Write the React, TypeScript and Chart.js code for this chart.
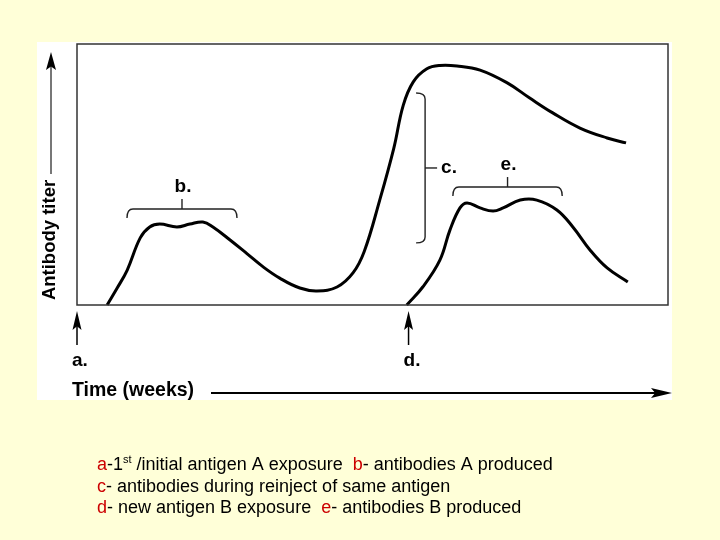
import React, { useEffect, useRef } from "react";
import { Chart, registerables } from "chart.js";

Chart.register(...registerables);

// Primary response to antigen A and secondary response on re-exposure (relative units)
const weeksA = [5.1, 6.8, 8.5, 10.7, 12.3, 14.0, 16.9, 19.1, 21.3, 23.0, 25.9, 28.8, 31.5, 34.3, 37.7, 40.6, 44.0, 46.7, 48.6, 51.2, 53.6, 55.2, 56.9, 59.2, 61.4, 64.3, 68.2, 72.8, 76.6, 80.5, 85.1, 89.7, 92.9];
const titerA = [0, 6.5, 13.4, 25.7, 29.9, 31.0, 29.9, 31.0, 31.8, 29.9, 24.9, 19.6, 14.6, 10.3, 6.5, 5.4, 6.9, 12.3, 20.5, 40.0, 60.0, 76.5, 85.5, 90.5, 91.8, 91.6, 90.0, 85.1, 79.3, 73.6, 67.8, 64.0, 62.1];

// Primary response to new antigen B
const weeksB = [55.8, 58.5, 61.4, 63.1, 64.8, 66.0, 68.2, 70.4, 72.1, 75.0, 77.8, 81.2, 83.9, 86.8, 89.7, 93.2];
const titerB = [0, 6.9, 17.2, 28.7, 37.2, 39.1, 37.2, 36.0, 37.2, 40.2, 40.2, 36.4, 29.9, 21.1, 14.2, 8.8];

// Exposure markers (x position)
const exposureLabels = ["a.", "d."];
const exposureWeeks = [0, 56.1];

// Brackets: [xStart, xEnd, yTop]
const bracketBx = [8.46, 27.07];
const bracketBy = 36.8;
const bracketEx = [63.6, 82.1];
const bracketEy = 45.2;
const bracketCx = 58.9;
const bracketCy = [23.8, 81.2];

const yAxisTitle = "Antibody titer";
const xAxisTitle = "Time (weeks)";

const RED = "#CC0000";
const legendLines: Array<Array<[string, string, boolean?]>> = [
  [["a", RED], ["-1", "#000"], ["st", "#000", true], [" /initial antigen A exposure  ", "#000"], ["b", RED], ["- antibodies A produced", "#000"]],
  [["c", RED], ["- antibodies during reinject of same antigen", "#000"]],
  [["d", RED], ["- new antigen B exposure  ", "#000"], ["e", RED], ["- antibodies B produced", "#000"]],
];

const FONT = '"Liberation Sans", Arial, sans-serif';
const BG = "#FFFFD8";

function arrowHead(ctx: CanvasRenderingContext2D, tipX: number, tipY: number, dir: "up" | "right", len: number, half: number) {
  ctx.beginPath();
  if (dir === "up") {
    ctx.moveTo(tipX, tipY);
    ctx.lineTo(tipX + half, tipY + len);
    ctx.lineTo(tipX, tipY + len * 0.8);
    ctx.lineTo(tipX - half, tipY + len);
  } else {
    ctx.moveTo(tipX, tipY);
    ctx.lineTo(tipX - len, tipY + half);
    ctx.lineTo(tipX - len * 0.8, tipY);
    ctx.lineTo(tipX - len, tipY - half);
  }
  ctx.closePath();
  ctx.fill();
}

const decorPlugin = {
  id: "decor",
  beforeDraw(chart: any) {
    const ctx: CanvasRenderingContext2D = chart.ctx;
    ctx.save();
    ctx.fillStyle = BG;
    ctx.fillRect(0, 0, chart.width, chart.height);
    ctx.fillStyle = "#FFFFFF";
    ctx.fillRect(37, 42, 635, 358);
    ctx.restore();
  },
  afterDraw(chart: any) {
    const ctx: CanvasRenderingContext2D = chart.ctx;
    const { left, right, top, bottom } = chart.chartArea;
    const xs = chart.scales.x;
    const ys = chart.scales.y;
    ctx.save();
    // plot box
    ctx.strokeStyle = "#333";
    ctx.lineWidth = 1.5;
    ctx.strokeRect(left, top, right - left, bottom - top);

    // y axis arrow
    ctx.strokeStyle = "#777";
    ctx.lineWidth = 2;
    ctx.beginPath();
    ctx.moveTo(51, 174);
    ctx.lineTo(51, 66);
    ctx.stroke();
    ctx.fillStyle = "#000";
    arrowHead(ctx, 51, 52, "up", 18, 5);

    // y title
    ctx.save();
    ctx.translate(50, 240);
    ctx.rotate(-Math.PI / 2);
    ctx.font = `bold 18.5px ${FONT}`;
    ctx.textAlign = "center";
    ctx.textBaseline = "middle";
    ctx.fillStyle = "#000";
    ctx.fillText(yAxisTitle, 0, 0);
    ctx.restore();

    // x title + arrow
    ctx.font = `bold 19.5px ${FONT}`;
    ctx.textAlign = "left";
    ctx.textBaseline = "middle";
    ctx.fillStyle = "#000";
    ctx.fillText(xAxisTitle, 72, 391);
    ctx.strokeStyle = "#000";
    ctx.lineWidth = 2;
    ctx.beginPath();
    ctx.moveTo(211, 393);
    ctx.lineTo(656, 393);
    ctx.stroke();
    arrowHead(ctx, 672, 393, "right", 21, 5);

    // exposure arrows
    exposureWeeks.forEach((w, i) => {
      const px = xs.getPixelForValue(w);
      ctx.strokeStyle = "#000";
      ctx.lineWidth = 1.5;
      ctx.beginPath();
      ctx.moveTo(px, 345);
      ctx.lineTo(px, 326);
      ctx.stroke();
      arrowHead(ctx, px, 311, "up", 19, 4.5);
      ctx.font = `bold 19px ${FONT}`;
      ctx.textAlign = "left";
      ctx.textBaseline = "middle";
      ctx.fillText(exposureLabels[i], px - 5, 361);
    });

    // horizontal brackets
    const hBracket = (x0: number, x1: number, yv: number, label: string) => {
      const p0 = xs.getPixelForValue(x0);
      const p1 = xs.getPixelForValue(x1);
      const py = ys.getPixelForValue(yv);
      const mid = (p0 + p1) / 2;
      ctx.strokeStyle = "#222";
      ctx.lineWidth = 1.4;
      ctx.beginPath();
      ctx.moveTo(p0, py + 9);
      ctx.quadraticCurveTo(p0, py, p0 + 6, py);
      ctx.lineTo(p1 - 6, py);
      ctx.quadraticCurveTo(p1, py, p1, py + 9);
      ctx.stroke();
      ctx.beginPath();
      ctx.moveTo(mid, py);
      ctx.lineTo(mid, py - 10);
      ctx.stroke();
      ctx.font = `bold 19px ${FONT}`;
      ctx.textAlign = "center";
      ctx.textBaseline = "middle";
      ctx.fillStyle = "#000";
      ctx.fillText(label, mid + 1, py - 22);
    };
    hBracket(bracketBx[0], bracketBx[1], bracketBy, "b.");
    hBracket(bracketEx[0], bracketEx[1], bracketEy, "e.");

    // vertical bracket c
    const cx = xs.getPixelForValue(bracketCx);
    const cy0 = ys.getPixelForValue(bracketCy[1]);
    const cy1 = ys.getPixelForValue(bracketCy[0]);
    ctx.strokeStyle = "#222";
    ctx.lineWidth = 1.4;
    ctx.beginPath();
    ctx.moveTo(cx - 9, cy0);
    ctx.quadraticCurveTo(cx, cy0, cx, cy0 + 6);
    ctx.lineTo(cx, cy1 - 6);
    ctx.quadraticCurveTo(cx, cy1, cx - 9, cy1);
    ctx.stroke();
    const cmid = (cy0 + cy1) / 2;
    ctx.beginPath();
    ctx.moveTo(cx, cmid);
    ctx.lineTo(cx + 12, cmid);
    ctx.stroke();
    ctx.font = `bold 19px ${FONT}`;
    ctx.textAlign = "left";
    ctx.textBaseline = "middle";
    ctx.fillStyle = "#000";
    ctx.fillText("c.", cx + 16, cmid);

    // legend text
    const centers = [465, 487, 508];
    legendLines.forEach((segs, li) => {
      let x = 97;
      const cy = centers[li];
      segs.forEach(([txt, col, sup]) => {
        ctx.fillStyle = col;
        ctx.textAlign = "left";
        ctx.textBaseline = "middle";
        if (sup) {
          ctx.font = `11px ${FONT}`;
          ctx.fillText(txt, x, cy - 5);
        } else {
          ctx.font = `18px ${FONT}`;
          ctx.fillText(txt, x, cy);
        }
        x += ctx.measureText(txt).width;
      });
    });
    ctx.restore();
  },
};

export default function App() {
  const ref = useRef<HTMLCanvasElement | null>(null);
  useEffect(() => {
    if (!ref.current) return;
    const chart = new Chart(ref.current, {
      type: "line",
      data: {
        datasets: [
          {
            data: weeksA.map((x, i) => ({ x, y: titerA[i] })),
            borderColor: "#000",
            borderWidth: 3,
            pointRadius: 0,
            tension: 0.4,
            fill: false,
            clip: false as any,
          },
          {
            data: weeksB.map((x, i) => ({ x, y: titerB[i] })),
            borderColor: "#000",
            borderWidth: 3,
            pointRadius: 0,
            tension: 0.4,
            fill: false,
            clip: false as any,
          },
        ],
      },
      options: {
        responsive: false,
        animation: false,
        layout: { padding: { left: 77, top: 44, right: 52, bottom: 235 } },
        scales: {
          x: { type: "linear", min: 0, max: 100, display: false },
          y: { type: "linear", min: 0, max: 100, display: false },
        },
        plugins: { legend: { display: false }, tooltip: { enabled: false } },
      },
      plugins: [decorPlugin],
    });
    return () => chart.destroy();
  }, []);
  return (
    <div style={{ position: "absolute", left: 0, top: 0, width: 720, height: 540, background: BG }}>
      <canvas ref={ref} width={720} height={540} style={{ display: "block" }} />
    </div>
  );
}
